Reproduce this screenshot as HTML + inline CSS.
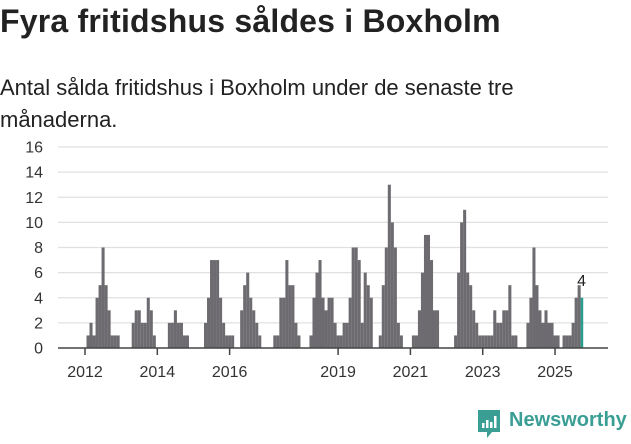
<!DOCTYPE html>
<html><head><meta charset="utf-8"><style>
body{margin:0;width:631px;height:439px;background:#fff;overflow:hidden;font-family:"Liberation Sans",sans-serif;color:#222}
#title{position:absolute;left:0;top:3px;font-size:32px;font-weight:bold;margin:0;letter-spacing:0.2px}
#sub{position:absolute;left:0;top:72px;font-size:22px;line-height:32px;width:590px}
svg{position:absolute;left:0;top:0}
</style></head><body>
<h1 id="title">Fyra fritidshus såldes i Boxholm</h1>
<div id="sub">Antal sålda fritidshus i Boxholm under de senaste tre månaderna.</div>
<svg id="chart" width="631" height="439"></svg>
<script>
// month index from Jan 2012, value
const months=[0,1,2,3,4,5,6,7,8,9,10,15,16,17,18,19,20,21,22,27,28,29,30,31,32,33,39,40,41,42,43,44,45,46,47,48,51,52,53,54,55,56,57,62,63,64,65,66,67,68,69,70,74,75,76,77,78,79,80,81,82,83,84,85,86,87,88,89,90,91,92,93,94,97,98,99,100,101,102,103,104,108,109,110,111,112,113,114,115,116,122,123,124,125,126,127,128,129,130,131,132,133,134,135,136,137,138,139,140,141,142,146,147,148,149,150,151,152,153,154,155,156,158,159,160,161,162,163,164];
const values=[1,2,1,4,5,8,5,3,1,1,1,2,3,3,2,2,4,3,1,2,2,3,2,2,1,1,2,4,7,7,7,4,2,1,1,1,3,5,6,4,3,2,1,1,1,4,4,7,5,5,2,1,1,4,6,7,4,3,4,4,2,1,1,2,2,4,8,8,7,2,6,5,4,1,5,8,13,10,8,2,1,1,1,3,6,9,9,7,3,3,1,6,10,11,6,5,3,2,1,1,1,1,1,3,2,2,3,3,5,1,1,2,4,8,5,3,2,3,2,2,1,1,1,1,1,2,4,5,4];
const yTicks=[0,2,4,6,8,10,12,14,16];
const xYears=[2012,2014,2016,2019,2021,2023,2025];
const NS="http://www.w3.org/2000/svg",svg=document.getElementById('chart');
const y=v=>348-v*12.5625, x=m=>86.5+m*3.013, yr=Y=>85+(Y-2012)*12*3.013;
function mk(t,a,txt){const e=document.createElementNS(NS,t);for(const k in a)e.setAttribute(k,a[k]);if(txt!==undefined)e.textContent=txt;svg.appendChild(e);return e;}
yTicks.forEach(t=>{
 if(t>0){const g=mk('line',{x1:58,x2:608,y1:y(t),y2:y(t),stroke:'#e0e0e0','stroke-width':1.3});
 
 }
 const l=mk('text',{x:43,y:y(t)+5.5,'text-anchor':'end','font-size':16,fill:'#333'},t);
 
 
});
months.forEach((m,i)=>{
 const last=i===months.length-1;
 const r=mk('rect',{x:x(m),y:y(values[i]),width:last?2.6:3.05,height:values[i]*12.5625,fill:last?'#2a9d8f':'#6d6b70'});
 
 
 if(last){const t=mk('text',{x:x(m)+1,y:y(values[i])-12,'text-anchor':'middle','font-size':16,fill:'#222'},values[i]);
 
 }
});
const ax=mk('line',{x1:58,x2:608,y1:348,y2:348,stroke:'#444','stroke-width':1.5});


xYears.forEach(Y=>{
 const tk=mk('line',{x1:yr(Y),x2:yr(Y),y1:348,y2:355,stroke:'#444','stroke-width':1.5});
 
 
 const l=mk('text',{x:yr(Y),y:377,'text-anchor':'middle','font-size':16,fill:'#333'},Y);
 
 
});
</script>
<div style="position:absolute;left:476px;top:408px;">
<svg width="26" height="31" style="position:static"><path d="M2 2h22v22h-8l-5 6v-6H2z" fill="#3a9e94"/><rect x="6" y="15" width="2.5" height="5" fill="#fff"/><rect x="10" y="12" width="2.5" height="8" fill="#fff"/><rect x="14" y="14" width="2.5" height="6" fill="#fff"/><rect x="18" y="8" width="2.5" height="12" fill="#fff"/></svg>
<span style="position:absolute;left:33px;top:1px;font-size:20px;color:#3a9e94;font-weight:bold;white-space:nowrap">Newsworthy</span>
</div>
</body></html>
